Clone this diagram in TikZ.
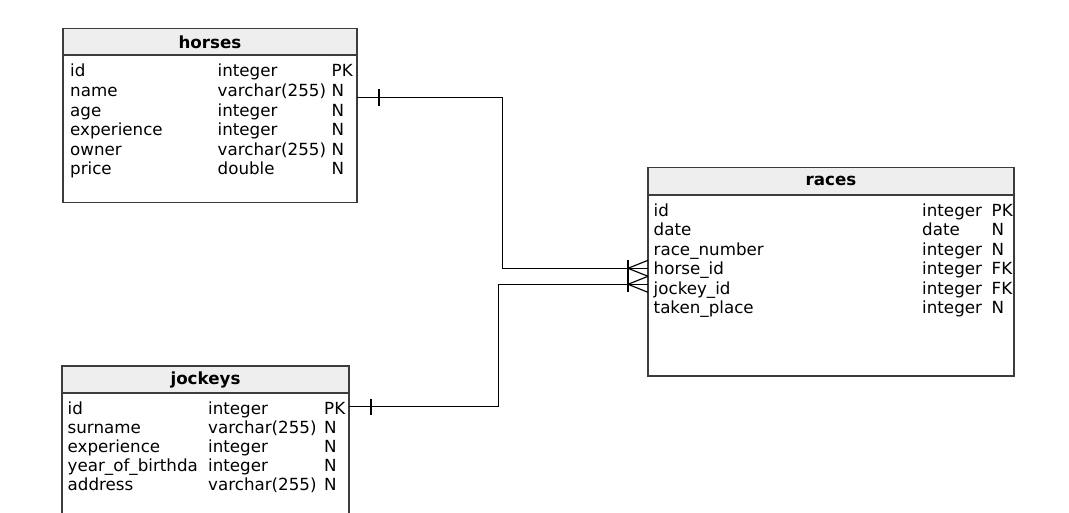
\documentclass[tikz,border=0pt]{standalone}
\usepackage{fontspec}
\setmainfont{DejaVu Sans}
\usepackage{xcolor}
\usetikzlibrary{positioning,calc}
\definecolor{tableline}{RGB}{60,60,60}
\definecolor{headfill}{RGB}{238,238,238}
\tikzstyle{tablehead} = [draw=tableline, line width=1.4pt, fill=headfill, inner sep=0pt, outer sep=0pt, font=\bfseries\fontsize{16.7}{19.5}\selectfont]
\tikzstyle{tablebody} = [draw=tableline, line width=1.4pt, inner sep=0pt, outer sep=0pt]
\tikzstyle{field} = [anchor=base west, inner sep=0pt, font=\fontsize{16.7}{19.5}\selectfont]
\tikzstyle{link} = [line width=1.2pt]

\begin{document}
\begin{tikzpicture}[x=1pt,y=-1pt]
	\useasboundingbox (0,0) rectangle (1069,513);
	\clip (0,0) rectangle (1069,513);

	% Tables:
	% A header node and a body node right below it
	\node [tablehead, minimum width=294, minimum height=26.3] (horses) at (210,41.85) {horses};
	\node [tablebody, minimum width=294, minimum height=147.7, below=0pt of horses] (horses-body) {};

	\node [tablehead, minimum width=366, minimum height=27.7] (races) at (831,181.15) {races};
	\node [tablebody, minimum width=366, minimum height=181, below=0pt of races] (races-body) {};

	\node [tablehead, minimum width=287, minimum height=27] (jockeys) at (205.5,379.5) {jockeys};
	\node [tablebody, minimum width=287, minimum height=150, below=0pt of jockeys] (jockeys-body) {};

	% Rows:
	% name, type and key column of every field
	\foreach \f/\t/\k [count=\i] in {id/integer/PK, name/varchar(255)/N, age/integer/N, experience/integer/N, owner/varchar(255)/N, price/double/N}
	{
		\node [field] (horses-name\i) at (70,77+19.6*\i-19.6) {\f};
		\node [field] (horses-type\i) at (217.5,77+19.6*\i-19.6) {\t};
		\node [field] (horses-key\i) at (331.5,77+19.6*\i-19.6) {\k};
	}

	\foreach \f/\t/\k [count=\i] in {id/integer/PK, date/date/N, race\_number/integer/N, horse\_id/integer/FK, jockey\_id/integer/FK, taken\_place/integer/N}
	{
		\node [field] (races-name\i) at (653.5,216.5+19.5*\i-19.5) {\f};
		\node [field] (races-type\i) at (922,216.5+19.5*\i-19.5) {\t};
		\node [field] (races-key\i) at (991.5,216.5+19.5*\i-19.5) {\k};
	}

	\foreach \f/\t/\k [count=\i] in {id/integer/PK, surname/varchar(255)/N, experience/integer/N, year\_of\_birthda/integer/N, address/varchar(255)/N}
	{
		\node [field] (jockeys-name\i) at (67.5,414+19.2*\i-19.2) {\f};
		\node [field] (jockeys-type\i) at (208,414+19.2*\i-19.2) {\t};
		\node [field] (jockeys-key\i) at (324,414+19.2*\i-19.2) {\k};
	}

	% Relations:
	% one side gets a bar, many side gets a crow's foot
	\coordinate (horses-out) at ($(horses-body.north east)+(0,42.5)$);
	\coordinate (jockeys-out) at ($(jockeys-body.north east)+(0,13.5)$);
	\coordinate (races-in-horse) at ($(races-body.north west)+(0,73.3)$);
	\coordinate (races-in-jockey) at ($(races-body.north west)+(0,89.3)$);

	\draw [link] (horses-out) -- ++(145.5,0) |- (races-in-horse);
	\draw [link] (jockeys-out) -- ++(149.5,0) |- (races-in-jockey);

	\draw [link] ($(horses-out)+(22,-8.3)$) -- ++(0,16.6);
	\draw [link] ($(jockeys-out)+(22,-8)$) -- ++(0,16);

	\draw [link] ($(races-in-horse)+(-20,-8)$) -- ++(0,16);
	\draw [link] ($(races-in-horse)+(0,-8)$) -- ($(races-in-horse)+(-20,0)$) -- ($(races-in-horse)+(0,8)$);
	\draw [link] ($(races-in-jockey)+(-20,-8)$) -- ++(0,16);
	\draw [link] ($(races-in-jockey)+(0,-8)$) -- ($(races-in-jockey)+(-20,0)$) -- ($(races-in-jockey)+(0,8)$);

\end{tikzpicture}
\end{document}
